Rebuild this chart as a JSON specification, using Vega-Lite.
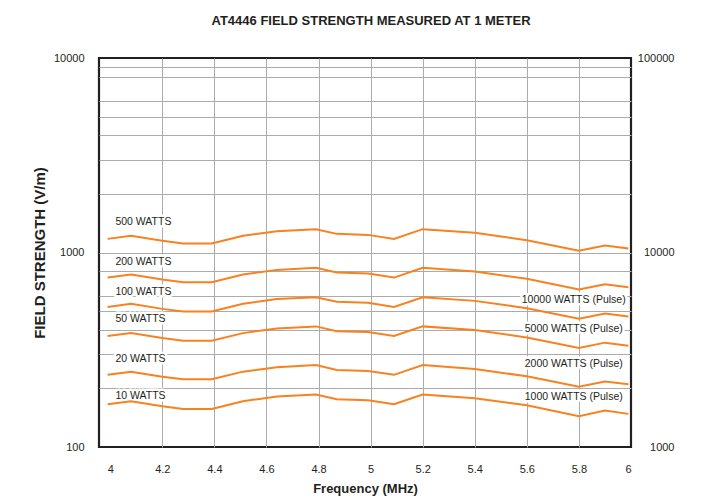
{
  "$schema": "https://vega.github.io/schema/vega-lite/v6.json",
  "width": 532,
  "height": 389,
  "autosize": {"type": "none"},
  "padding": {"left": 99, "top": 58, "right": 85, "bottom": 50},
  "background": "white",
  "config": {
    "font": "Liberation Sans",
    "view": {"stroke": "#231f20", "strokeWidth": 2.2, "fill": "white"},
    "axis": {
      "labelFont": "Liberation Sans",
      "labelFontSize": 11,
      "labelColor": "#231f20",
      "titleFont": "Liberation Sans",
      "titleColor": "#231f20",
      "titleFontWeight": "bold",
      "ticks": false,
      "domain": false,
      "gridColor": "#ababab",
      "gridWidth": 1
    }
  },
  "title": {
    "text": "AT4446 FIELD STRENGTH MEASURED AT 1 METER",
    "font": "Liberation Sans",
    "fontSize": 13,
    "fontWeight": "bold",
    "color": "#231f20",
    "anchor": "middle",
    "dx": 6,
    "offset": 24
  },
  "datasets": {
    "curves": [
      {"freq": 3.99, "watts": "500", "fs": 1175}, {"freq": 4.08, "watts": "500", "fs": 1218}, {"freq": 4.2, "watts": "500", "fs": 1148}, {"freq": 4.28, "watts": "500", "fs": 1113}, {"freq": 4.39, "watts": "500", "fs": 1113}, {"freq": 4.51, "watts": "500", "fs": 1218}, {"freq": 4.64, "watts": "500", "fs": 1287}, {"freq": 4.79, "watts": "500", "fs": 1318}, {"freq": 4.87, "watts": "500", "fs": 1247}, {"freq": 4.99, "watts": "500", "fs": 1232}, {"freq": 5.09, "watts": "500", "fs": 1175}, {"freq": 5.2, "watts": "500", "fs": 1318}, {"freq": 5.4, "watts": "500", "fs": 1262}, {"freq": 5.6, "watts": "500", "fs": 1157}, {"freq": 5.8, "watts": "500", "fs": 1020}, {"freq": 5.9, "watts": "500", "fs": 1087}, {"freq": 5.99, "watts": "500", "fs": 1049},
      {"freq": 3.99, "watts": "200", "fs": 743}, {"freq": 4.08, "watts": "200", "fs": 770}, {"freq": 4.2, "watts": "200", "fs": 726}, {"freq": 4.28, "watts": "200", "fs": 704}, {"freq": 4.39, "watts": "200", "fs": 704}, {"freq": 4.51, "watts": "200", "fs": 770}, {"freq": 4.64, "watts": "200", "fs": 814}, {"freq": 4.79, "watts": "200", "fs": 834}, {"freq": 4.87, "watts": "200", "fs": 789}, {"freq": 4.99, "watts": "200", "fs": 779}, {"freq": 5.09, "watts": "200", "fs": 743}, {"freq": 5.2, "watts": "200", "fs": 834}, {"freq": 5.4, "watts": "200", "fs": 798}, {"freq": 5.6, "watts": "200", "fs": 732}, {"freq": 5.8, "watts": "200", "fs": 645}, {"freq": 5.9, "watts": "200", "fs": 687}, {"freq": 5.99, "watts": "200", "fs": 663},
      {"freq": 3.99, "watts": "100", "fs": 525}, {"freq": 4.08, "watts": "100", "fs": 545}, {"freq": 4.2, "watts": "100", "fs": 513}, {"freq": 4.28, "watts": "100", "fs": 498}, {"freq": 4.39, "watts": "100", "fs": 498}, {"freq": 4.51, "watts": "100", "fs": 545}, {"freq": 4.64, "watts": "100", "fs": 576}, {"freq": 4.79, "watts": "100", "fs": 589}, {"freq": 4.87, "watts": "100", "fs": 558}, {"freq": 4.99, "watts": "100", "fs": 551}, {"freq": 5.09, "watts": "100", "fs": 525}, {"freq": 5.2, "watts": "100", "fs": 589}, {"freq": 5.4, "watts": "100", "fs": 564}, {"freq": 5.6, "watts": "100", "fs": 517}, {"freq": 5.8, "watts": "100", "fs": 456}, {"freq": 5.9, "watts": "100", "fs": 486}, {"freq": 5.99, "watts": "100", "fs": 469},
      {"freq": 3.99, "watts": "50", "fs": 372}, {"freq": 4.08, "watts": "50", "fs": 385}, {"freq": 4.2, "watts": "50", "fs": 363}, {"freq": 4.28, "watts": "50", "fs": 352}, {"freq": 4.39, "watts": "50", "fs": 352}, {"freq": 4.51, "watts": "50", "fs": 385}, {"freq": 4.64, "watts": "50", "fs": 407}, {"freq": 4.79, "watts": "50", "fs": 417}, {"freq": 4.87, "watts": "50", "fs": 394}, {"freq": 4.99, "watts": "50", "fs": 390}, {"freq": 5.09, "watts": "50", "fs": 372}, {"freq": 5.2, "watts": "50", "fs": 417}, {"freq": 5.4, "watts": "50", "fs": 399}, {"freq": 5.6, "watts": "50", "fs": 366}, {"freq": 5.8, "watts": "50", "fs": 323}, {"freq": 5.9, "watts": "50", "fs": 344}, {"freq": 5.99, "watts": "50", "fs": 332},
      {"freq": 3.99, "watts": "20", "fs": 235}, {"freq": 4.08, "watts": "20", "fs": 244}, {"freq": 4.2, "watts": "20", "fs": 230}, {"freq": 4.28, "watts": "20", "fs": 223}, {"freq": 4.39, "watts": "20", "fs": 223}, {"freq": 4.51, "watts": "20", "fs": 244}, {"freq": 4.64, "watts": "20", "fs": 257}, {"freq": 4.79, "watts": "20", "fs": 264}, {"freq": 4.87, "watts": "20", "fs": 249}, {"freq": 4.99, "watts": "20", "fs": 246}, {"freq": 5.09, "watts": "20", "fs": 235}, {"freq": 5.2, "watts": "20", "fs": 264}, {"freq": 5.4, "watts": "20", "fs": 252}, {"freq": 5.6, "watts": "20", "fs": 231}, {"freq": 5.8, "watts": "20", "fs": 204}, {"freq": 5.9, "watts": "20", "fs": 217}, {"freq": 5.99, "watts": "20", "fs": 210},
      {"freq": 3.99, "watts": "10", "fs": 166}, {"freq": 4.08, "watts": "10", "fs": 172}, {"freq": 4.2, "watts": "10", "fs": 162}, {"freq": 4.28, "watts": "10", "fs": 157}, {"freq": 4.39, "watts": "10", "fs": 157}, {"freq": 4.51, "watts": "10", "fs": 172}, {"freq": 4.64, "watts": "10", "fs": 182}, {"freq": 4.79, "watts": "10", "fs": 186}, {"freq": 4.87, "watts": "10", "fs": 176}, {"freq": 4.99, "watts": "10", "fs": 174}, {"freq": 5.09, "watts": "10", "fs": 166}, {"freq": 5.2, "watts": "10", "fs": 186}, {"freq": 5.4, "watts": "10", "fs": 178}, {"freq": 5.6, "watts": "10", "fs": 164}, {"freq": 5.8, "watts": "10", "fs": 144}, {"freq": 5.9, "watts": "10", "fs": 154}, {"freq": 5.99, "watts": "10", "fs": 148}
    ],
    "cwLabels": [
      {"freq": 4.02, "fs": 1432, "label": "500 WATTS"},
      {"freq": 4.02, "fs": 892, "label": "200 WATTS"},
      {"freq": 4.02, "fs": 628, "label": "100 WATTS"},
      {"freq": 4.02, "fs": 456, "label": "50 WATTS"},
      {"freq": 4.02, "fs": 283, "label": "20 WATTS"},
      {"freq": 4.02, "fs": 183, "label": "10 WATTS"}
    ],
    "pulseLabels": [
      {"freq": 5.78, "fs": 5690, "label": "10000 WATTS (Pulse)"},
      {"freq": 5.78, "fs": 4050, "label": "5000 WATTS (Pulse)"},
      {"freq": 5.78, "fs": 2670, "label": "2000 WATTS (Pulse)"},
      {"freq": 5.78, "fs": 1810, "label": "1000 WATTS (Pulse)"}
    ]
  },
  "encoding": {
    "x": {
      "field": "freq",
      "type": "quantitative",
      "scale": {"domain": [3.957, 6], "nice": false, "zero": false},
      "axis": {
        "values": [4, 4.2, 4.4, 4.6, 4.8, 5, 5.2, 5.4, 5.6, 5.8, 6],
        "format": "~g",
        "labelPadding": 16,
        "title": "Frequency (MHz)",
        "titleFontSize": 13,
        "titlePadding": 8,
        "grid": true,
        "gridOpacity": {"condition": {"test": "datum.value == 4 || datum.value == 6", "value": 0}, "value": 1}
      }
    }
  },
  "layer": [
    {
      "data": {"name": "cwLabels"},
      "mark": {"type": "text", "align": "left", "baseline": "middle", "font": "Liberation Sans", "fontSize": 10.5, "fill": "white", "stroke": "white", "strokeWidth": 5, "strokeJoin": "round"},
      "encoding": {
        "y": {"field": "fs", "type": "quantitative", "scale": {"type": "log", "domain": [100, 10000], "nice": false}, "axis": null},
        "text": {"field": "label"}
      }
    },
    {
      "data": {"name": "pulseLabels"},
      "mark": {"type": "text", "align": "center", "baseline": "middle", "font": "Liberation Sans", "fontSize": 10.5, "fill": "white", "stroke": "white", "strokeWidth": 5, "strokeJoin": "round"},
      "encoding": {
        "y": {"field": "fs", "type": "quantitative", "scale": {"type": "log", "domain": [1000, 100000], "nice": false}, "axis": null},
        "text": {"field": "label"}
      }
    },
    {
      "data": {"name": "curves"},
      "mark": {"type": "line", "color": "#f7821f", "strokeWidth": 2},
      "encoding": {
        "y": {
          "field": "fs",
          "type": "quantitative",
          "scale": {"type": "log", "domain": [100, 10000], "nice": false},
          "axis": {
            "orient": "left",
            "values": [100, 200, 300, 400, 500, 600, 800, 1000, 2000, 3000, 4000, 5000, 6000, 8000, 9000, 10000],
            "labelExpr": "datum.value == 100 || datum.value == 1000 || datum.value == 10000 ? format(datum.value, 'd') : ''",
            "labelPadding": 15,
            "title": "FIELD STRENGTH (V/m)",
            "titleFontSize": 15,
            "titlePadding": 6,
            "grid": true,
            "gridOpacity": {"condition": {"test": "datum.value == 100 || datum.value == 10000", "value": 0}, "value": 1}
          }
        },
        "detail": {"field": "watts"}
      }
    },
    {
      "data": {"name": "cwLabels"},
      "mark": {"type": "text", "align": "left", "baseline": "middle", "font": "Liberation Sans", "fontSize": 10.5, "color": "#231f20"},
      "encoding": {
        "y": {"field": "fs", "type": "quantitative", "scale": {"type": "log", "domain": [100, 10000], "nice": false}, "axis": null},
        "text": {"field": "label"}
      }
    },
    {
      "data": {"name": "pulseLabels"},
      "mark": {"type": "text", "align": "center", "baseline": "middle", "font": "Liberation Sans", "fontSize": 10.5, "color": "#231f20"},
      "encoding": {
        "y": {
          "field": "fs",
          "type": "quantitative",
          "scale": {"type": "log", "domain": [1000, 100000], "nice": false},
          "axis": {
            "orient": "right",
            "values": [1000, 10000, 100000],
            "format": "d",
            "labelAlign": "right",
            "labelPadding": 43,
            "grid": false,
            "title": null
          }
        },
        "text": {"field": "label"}
      }
    }
  ],
  "resolve": {"scale": {"y": "independent"}}
}
